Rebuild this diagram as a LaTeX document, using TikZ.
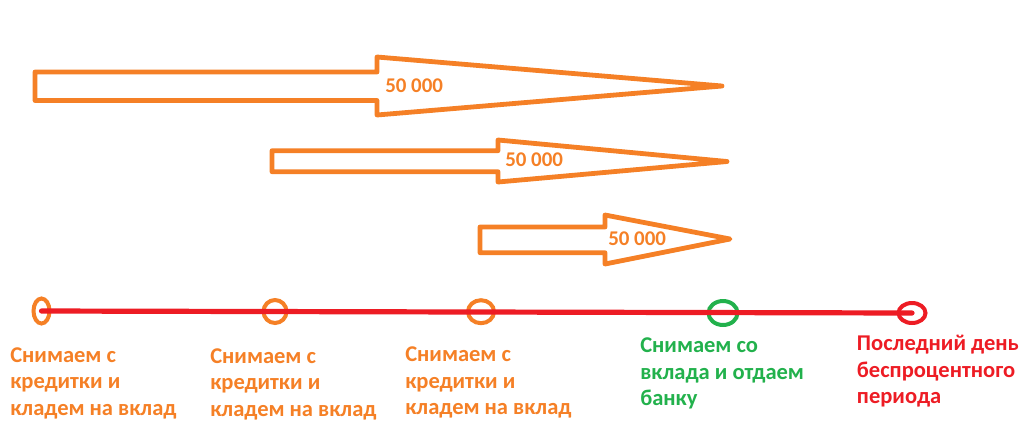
\documentclass[tikz,border=0pt]{standalone}
\usepackage{fontspec}
\setmainfont{Carlito}
\usepackage{tikz}
\usetikzlibrary{shapes.geometric}
\usepackage{xcolor}
\definecolor{paintorange}{RGB}{245,128,38}
\definecolor{paintred}{RGB}{237,28,36}
\definecolor{paintgreen}{RGB}{34,177,76}
\tikzset{
    blockarrow/.style={
        draw=paintorange,
        line width=3.6pt,
        line join=round
    },
    sumlabel/.style={
        anchor=base west,
        inner sep=0pt,
        text=paintorange,
        font=\bfseries\fontsize{15.7}{19.9}\selectfont
    },
    daymark/.style={
        ellipse,
        draw,
        line width=3pt,
        inner sep=0pt
    },
    daylabel/.style={
        anchor=base west,
        inner sep=0pt,
        align=left,
        font=\bfseries\fontsize{16.9}{19.9}\selectfont
    },
    timeline/.style={
        draw=paintred,
        line width=3.9pt,
        line cap=round
    }
}

\begin{document}
\begin{tikzpicture}[x=0.75pt, y=-0.75pt]
    \useasboundingbox (0,0) rectangle (1019,426);

    % Block arrows
    \draw[blockarrow] (35,72) -- (377,72) -- (377,57) -- (722,86)
        -- (377,115) -- (377,100.5) -- (35,100.5) -- cycle;
    \draw[blockarrow] (272,150.7) -- (498,150.7) -- (498,140) -- (727,161.5)
        -- (498,182) -- (498,171.7) -- (272,171.7) -- cycle;
    \draw[blockarrow] (480,227) -- (605,227) -- (605,215) -- (730,239)
        -- (605,264) -- (605,252.7) -- (480,252.7) -- cycle;

    % Sums
    \node[sumlabel] (s1) at (385,92.7) {50 000};
    \node[sumlabel] (s2) at (505,166.7) {50 000};
    \node[sumlabel] (s3) at (608,245) {50 000};

    % Days
    \node[daymark, draw=paintorange, minimum width=12pt, minimum height=18.75pt] (d1) at (41.5,311) {};
    \node[daymark, draw=paintorange, minimum width=17.25pt, minimum height=17.25pt] (d2) at (275,311.5) {};
    \node[daymark, draw=paintorange, minimum width=19.5pt, minimum height=17.25pt] (d3) at (481,311.7) {};
    \node[daymark, draw=paintgreen, minimum width=21.75pt, minimum height=18pt] (d4) at (723,313) {};
    \node[daymark, draw=paintred, minimum width=20.25pt, minimum height=15pt] (d5) at (912,313) {};

    % Time line
    \draw[timeline] (d1.center) -- (d5.center);

    % Labels (base = last line)
    \node[daylabel, text=paintorange] (l1) at (10,415.3) {Снимаем с\\кредитки и\\кладем на вклад};
    \node[daylabel, text=paintorange] (l2) at (210,416.3) {Снимаем с\\кредитки и\\кладем на вклад};
    \node[daylabel, text=paintorange] (l3) at (405,414.7) {Снимаем с\\кредитки и\\кладем на вклад};
    \node[daylabel, text=paintgreen] (l4) at (640,405.7) {Снимаем со\\вклада и отдаем\\банку};
    \node[daylabel, text=paintred] (l5) at (856.7,403.7) {Последний день\\беспроцентного\\периода};
\end{tikzpicture}
\end{document}
